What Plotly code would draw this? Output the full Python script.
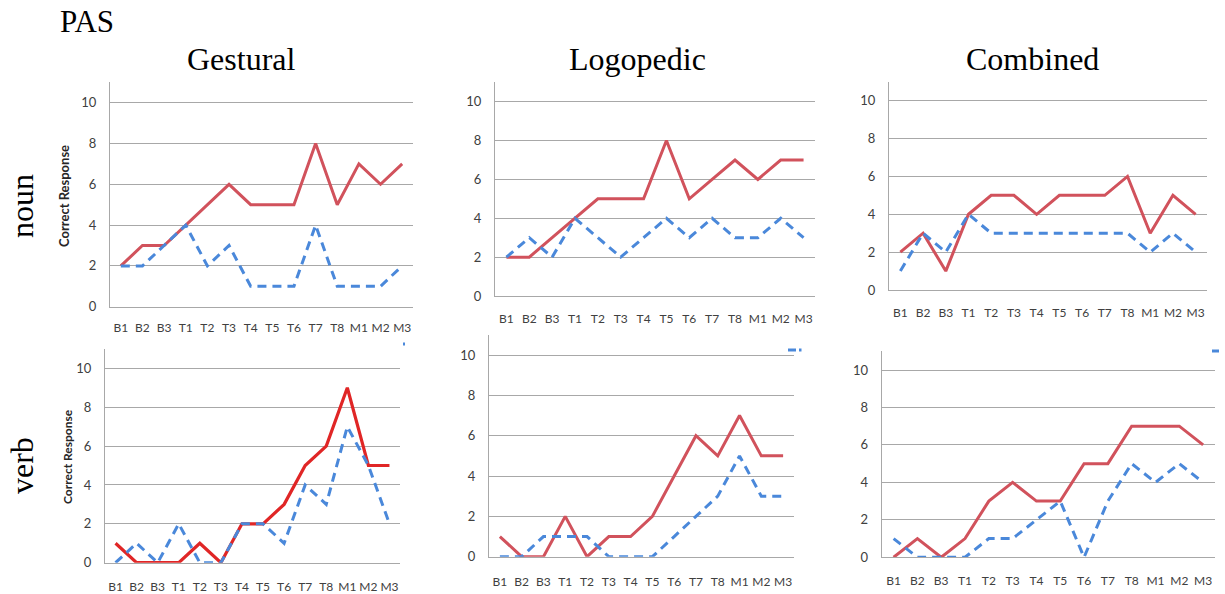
import plotly.graph_objects as go

sessions = ["B1", "B2", "B3", "T1", "T2", "T3", "T4", "T5", "T6", "T7", "T8", "M1", "M2", "M3"]
y_ticks = [0, 2, 4, 6, 8, 10]

# noun scores (solid red / dashed blue)
noun_gestural_red = [2, 3, 3, 4, 5, 6, 5, 5, 5, 8, 5, 7, 6, 7]
noun_gestural_blue = [2, 2, 3, 4, 2, 3, 1, 1, 1, 4, 1, 1, 1, 2]
noun_logopedic_red = [2, 2, 3, 4, 5, 5, 5, 8, 5, 6, 7, 6, 7, 7]
noun_logopedic_blue = [2, 3, 2, 4, 3, 2, 3, 4, 3, 4, 3, 3, 4, 3]
noun_combined_red = [2, 3, 1, 4, 5, 5, 4, 5, 5, 5, 6, 3, 5, 4]
noun_combined_blue = [1, 3, 2, 4, 3, 3, 3, 3, 3, 3, 3, 2, 3, 2]

# verb scores
verb_gestural_red = [1, 0, 0, 0, 1, 0, 2, 2, 3, 5, 6, 9, 5, 5]
verb_gestural_blue = [0, 1, 0, 2, 0, 0, 2, 2, 1, 4, 3, 7, 5, 2]
verb_logopedic_red = [1, 0, 0, 2, 0, 1, 1, 2, 4, 6, 5, 7, 5, 5]
verb_logopedic_blue = [0, 0, 1, 1, 1, 0, 0, 0, 1, 2, 3, 5, 3, 3]
verb_combined_red = [0, 1, 0, 1, 3, 4, 3, 3, 5, 5, 7, 7, 7, 6]
verb_combined_blue = [1, 0, 0, 0, 1, 1, 2, 3, 0, 3, 5, 4, 5, 4]

W, H = 1225, 594
RED = "#d1525c"
RED_BRIGHT = "#e02626"
BLUE = "#4a88da"
GRID = "#a8a8a8"
SANS = "Lato, 'Open Sans', sans-serif"
Y_TICK_FONT = dict(family=SANS, size=13, color="#404040")
X_TICK_FONT = dict(family=SANS, size=12, color="#404040")
SERIF = "'Liberation Serif', 'Times New Roman', serif"

# panel boxes in pixels: (left, right, y of 0, pixels per unit, red colour, x-label gap)
panels = [
    (noun_gestural_red, noun_gestural_blue, 110, 413, 306.7, 20.4, RED, 10),
    (noun_logopedic_red, noun_logopedic_blue, 495, 815, 296.0, 19.43, RED, 12),
    (noun_combined_red, noun_combined_blue, 889, 1207, 290.0, 18.93, RED, 12),
    (verb_gestural_red, verb_gestural_blue, 105, 400, 562.7, 19.44, RED_BRIGHT, 13),
    (verb_logopedic_red, verb_logopedic_blue, 489, 794, 556.7, 20.17, RED, 14),
    (verb_combined_red, verb_combined_blue, 881.7, 1215, 557.3, 18.73, RED, 12),
]

Y_MAX = 11
fig = go.Figure()
layout = {}
x_idx = list(range(len(sessions)))

for i, (red, blue, left, right, y0, ppu, red_col, xgap) in enumerate(panels, start=1):
    sfx = "" if i == 1 else str(i)
    xa, ya = "x" + sfx, "y" + sfx
    top = y0 - Y_MAX * ppu
    fig.add_trace(go.Scatter(x=x_idx, y=red, mode="lines", xaxis=xa, yaxis=ya,
                             line=dict(color=red_col, width=3.2 if red_col == RED_BRIGHT else 3),
                             showlegend=False, hoverinfo="skip"))
    fig.add_trace(go.Scatter(x=x_idx, y=blue, mode="lines", xaxis=xa, yaxis=ya,
                             line=dict(color=BLUE, width=3, dash="9px,6px"),
                             showlegend=False, hoverinfo="skip"))
    layout["xaxis" + sfx] = dict(
        domain=[left / W, right / W], anchor=ya, range=[-0.5, len(sessions) - 0.5],
        tickmode="array", tickvals=x_idx, ticktext=sessions, tickangle=0,
        showgrid=False, zeroline=False, showline=True, linecolor=GRID, linewidth=1,
        ticks="outside", ticklen=xgap, tickcolor="rgba(0,0,0,0)",
        tickfont=X_TICK_FONT, fixedrange=True, automargin=False,
    )
    layout["yaxis" + sfx] = dict(
        domain=[1 - y0 / H, 1 - top / H], anchor=xa, range=[0, Y_MAX],
        tickmode="array", tickvals=y_ticks,
        showgrid=True, gridcolor=GRID, gridwidth=1, zeroline=False,
        showline=True, linecolor=GRID, linewidth=1,
        ticks="outside", ticklen=10, tickcolor="rgba(0,0,0,0)",
        tickfont=Y_TICK_FONT, fixedrange=True, automargin=False,
    )

annotations = [
    dict(text="PAS", x=58 / W, y=1 - 21 / H, xanchor="left", yanchor="middle",
         font=dict(family=SERIF, size=31, color="#000")),
    dict(text="Gestural", x=241 / W, y=1 - 59 / H, xanchor="center", yanchor="middle",
         font=dict(family=SERIF, size=32, color="#000")),
    dict(text="Logopedic", x=637 / W, y=1 - 59 / H, xanchor="center", yanchor="middle",
         font=dict(family=SERIF, size=32, color="#000")),
    dict(text="Combined", x=1032 / W, y=1 - 59 / H, xanchor="center", yanchor="middle",
         font=dict(family=SERIF, size=32, color="#000")),
    dict(text="noun", x=22 / W, y=1 - 206 / H, xanchor="center", yanchor="middle", textangle=-90,
         font=dict(family=SERIF, size=32, color="#000")),
    dict(text="verb", x=22 / W, y=1 - 466 / H, xanchor="center", yanchor="middle", textangle=-90,
         font=dict(family=SERIF, size=32, color="#000")),
    dict(text="<b>Correct Response</b>", x=64 / W, y=1 - 196 / H, xanchor="center", yanchor="middle",
         textangle=-90, font=dict(family=SANS, size=13, color="#262626")),
    dict(text="<b>Correct Response</b>", x=67 / W, y=1 - 457 / H, xanchor="center", yanchor="middle",
         textangle=-90, font=dict(family=SANS, size=12, color="#262626")),
]
for a in annotations:
    a.update(xref="paper", yref="paper", showarrow=False)

# clipped legend keys peeking in at the top right of the verb panels
shapes = [
    dict(type="line", x0=403 / W, x1=405 / W, y0=1 - 344 / H, y1=1 - 344 / H),
    dict(type="line", x0=788 / W, x1=796 / W, y0=1 - 350 / H, y1=1 - 350 / H),
    dict(type="line", x0=799 / W, x1=801.5 / W, y0=1 - 350 / H, y1=1 - 350 / H),
    dict(type="line", x0=1212 / W, x1=1219 / W, y0=1 - 351 / H, y1=1 - 351 / H),
]
for s in shapes:
    s.update(xref="paper", yref="paper", line=dict(color=BLUE, width=3))

fig.update_layout(
    template="none",
    width=W, height=H, margin=dict(l=0, r=0, t=0, b=0, autoexpand=False),
    paper_bgcolor="white", plot_bgcolor="white",
    annotations=annotations, shapes=shapes, **layout,
)

fig.write_html("out.html", config={"displayModeBar": False})
